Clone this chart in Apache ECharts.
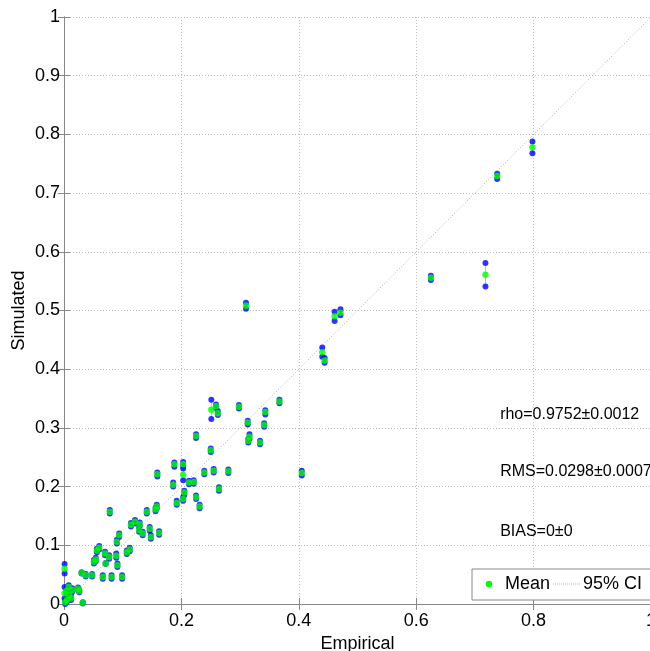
<!DOCTYPE html>
<html>
<head>
<meta charset="utf-8">
<script src="https://cdn.jsdelivr.net/npm/echarts@6/dist/echarts.min.js"></script>
<style>
html,body{margin:0;padding:0;background:#fff;}
#chart{width:650px;height:651px;}
</style>
</head>
<body>
<div id="chart"></div>
<script>
// Empirical (x), simulated mean (y), 95% CI lower / upper
var empirical = [0.798,0.738,0.718,0.625,0.310,0.461,0.471,0.440,0.444,0.367,0.343,0.341,0.313,0.316,0.314,0.334,0.405,0.298,0.251,0.259,0.262,0.225,0.250,0.188,0.203,0.203,0.239,0.255,0.280,0.213,0.221,0.186,0.264,0.205,0.203,0.225,0.192,0.231,0.159,0.078,0.158,0.156,0.141,0.121,0.114,0.129,0.128,0.134,0.146,0.148,0.162,0.094,0.090,0.060,0.056,0.070,0.077,0.089,0.112,0.107,0.054,0.051,0.071,0.091,0.030,0.037,0.048,0.066,0.081,0.099,0.024,0.026,0.032,0.001,0.001,0.008,0.014,0.009,0.005,0.002,0.004,0.012];
var simMean  = [0.778,0.729,0.561,0.556,0.508,0.490,0.496,0.429,0.415,0.345,0.327,0.305,0.309,0.285,0.278,0.275,0.223,0.336,0.331,0.337,0.325,0.286,0.262,0.238,0.238,0.220,0.224,0.227,0.226,0.207,0.208,0.203,0.196,0.190,0.179,0.182,0.172,0.166,0.221,0.157,0.166,0.161,0.157,0.140,0.135,0.136,0.126,0.120,0.128,0.114,0.121,0.117,0.106,0.096,0.091,0.086,0.080,0.082,0.093,0.088,0.076,0.072,0.069,0.066,0.053,0.049,0.049,0.046,0.046,0.046,0.026,0.022,0.002,0.060,0.018,0.029,0.024,0.015,0.007,0.003,0.022,0.010];
var ciLow    = [0.768,0.724,0.541,0.552,0.503,0.482,0.492,0.421,0.411,0.342,0.323,0.302,0.306,0.281,0.275,0.272,0.219,0.333,0.315,0.334,0.322,0.283,0.259,0.234,0.235,0.211,0.221,0.224,0.223,0.204,0.205,0.200,0.193,0.186,0.176,0.179,0.169,0.163,0.217,0.154,0.163,0.158,0.154,0.137,0.132,0.133,0.123,0.117,0.125,0.111,0.118,0.114,0.103,0.093,0.088,0.083,0.077,0.079,0.090,0.085,0.073,0.069,0.068,0.063,0.052,0.047,0.047,0.043,0.043,0.043,0.024,0.020,0.001,0.052,0.010,0.026,0.021,0.012,0.004,0.000,0.019,0.007];
var ciHigh   = [0.788,0.733,0.581,0.559,0.513,0.498,0.502,0.437,0.419,0.348,0.330,0.308,0.312,0.289,0.281,0.278,0.227,0.339,0.348,0.340,0.329,0.289,0.265,0.241,0.242,0.231,0.227,0.230,0.229,0.210,0.211,0.207,0.199,0.193,0.182,0.185,0.176,0.169,0.224,0.160,0.169,0.164,0.160,0.143,0.138,0.139,0.129,0.123,0.131,0.117,0.124,0.120,0.109,0.099,0.094,0.089,0.083,0.086,0.096,0.091,0.079,0.075,0.070,0.069,0.054,0.051,0.051,0.049,0.049,0.049,0.028,0.024,0.003,0.068,0.029,0.032,0.027,0.018,0.010,0.006,0.025,0.013];
var yTicks = [0,0.1,0.2,0.3,0.4,0.5,0.6,0.7,0.8,0.9,1];
var xTicks = [0,0.2,0.4,0.6,0.8,1];
var statsText = ['rho=0.9752\u00b10.0012','RMS=0.0298\u00b10.0007','BIAS=0\u00b10'];
var statsY = [0.322,0.225,0.123];
var statsX = 0.743;

var FONT = '"Liberation Sans", Arial, Helvetica, sans-serif';
var meanData = empirical.map(function(x,i){return [x, simMean[i]];});
var ciPts = [];
var ciSeg = [];
empirical.forEach(function(x,i){
  ciPts.push([x, ciLow[i]]); ciPts.push([x, ciHigh[i]]);
  ciSeg.push([x, ciLow[i], ciHigh[i]]);
});

var chart = echarts.init(document.getElementById('chart'), null, {renderer:'canvas'});
var G = {left:64, top:17, width:587, height:587, containLabel:false, outerBoundsMode:'none'};
function fmt(v){ return String(Math.round(v*10)/10); }
var gridLine = {show:true, lineStyle:{color:'#bdbdbd', type:[1,2], width:1}};
var axisLine = {show:true, lineStyle:{color:'#888', width:1}};
var tick = {show:true, inside:true, length:6, lineStyle:{color:'#888'}};

var option = {
  animation:false,
  backgroundColor:'#fff',
  grid: G,
  xAxis: [{
    type:'value', min:0, max:1, interval:0.2, position:'bottom',
    axisLine:axisLine, axisTick:tick, splitLine:gridLine,
    axisLabel:{color:'#000', fontSize:18, fontFamily:FONT, margin:8, showMinLabel:true, showMaxLabel:true,
      formatter:function(v){ return xTicks.indexOf(Math.round(v*10)/10)>=0 ? fmt(v) : ''; }},
    name:'Empirical', nameLocation:'middle', nameGap:31, nameMoveOverlap:false,
    nameTextStyle:{color:'#000', fontSize:18, fontFamily:FONT}
  },{
    type:'value', min:0, max:1, interval:0.2, position:'top',
    axisLine:axisLine, axisTick:tick, splitLine:{show:false}, axisLabel:{show:false}
  }],
  yAxis: [{
    type:'value', min:0, max:1, interval:0.1, position:'left',
    axisLine:axisLine, axisTick:tick, splitLine:gridLine,
    axisLabel:{color:'#000', fontSize:18, fontFamily:FONT, margin:4,
      formatter:function(v){ return yTicks.indexOf(Math.round(v*10)/10)>=0 ? fmt(v) : ''; }},
    name:'Simulated', nameLocation:'middle', nameGap:36, nameMoveOverlap:false,
    nameTextStyle:{color:'#000', fontSize:18, fontFamily:FONT}
  },{
    type:'value', min:0, max:1, interval:0.1, position:'right',
    axisLine:axisLine, axisTick:tick, splitLine:{show:false}, axisLabel:{show:false}
  }],
  series: [
    {
      name:'1:1', type:'line', data:[[0,0],[1,1]], symbol:'none', silent:true,
      lineStyle:{color:'#b4b4b4', width:1, type:[1,2]}, z:1
    },
    {
      name:'95% CI', type:'custom', data:ciSeg, z:2,
      renderItem:function(params, api){
        var p1 = api.coord([api.value(0), api.value(1)]);
        var p2 = api.coord([api.value(0), api.value(2)]);
        return {type:'line', shape:{x1:p1[0],y1:p1[1],x2:p2[0],y2:p2[1]},
          style:{stroke:'#b0b4ff', lineWidth:1}};
      }
    },
    {
      name:'CI bounds', type:'scatter', data:ciPts, symbol:'circle', symbolSize:6,
      itemStyle:{color:'#0000ff'}, z:3
    },
    {
      name:'Mean', type:'scatter', data:meanData, symbol:'circle', symbolSize:6.5,
      itemStyle:{color:'#00ff00'}, z:4
    }
  ],
  graphic: []
};
chart.setOption(option);

// Statistics annotations placed at data coordinates
var g = [];
statsText.forEach(function(t,i){
  var p = chart.convertToPixel({xAxisIndex:0, yAxisIndex:0}, [statsX, statsY[i]]);
  g.push({type:'text', x:p[0], y:p[1], z:10,
    style:{text:t, fill:'#000', fontSize:16, fontFamily:FONT, verticalAlign:'middle'}});
});
// Legend box
g.push({type:'rect', shape:{x:472, y:569, width:190, height:31}, z:10,
  style:{fill:'#fff', stroke:'#888', lineWidth:1}});
g.push({type:'circle', shape:{cx:489, cy:584, r:3.2}, z:11, style:{fill:'#00ff00'}});
g.push({type:'text', x:505, y:584, z:11,
  style:{text:'Mean', fill:'#000', fontSize:18, fontFamily:FONT, verticalAlign:'middle'}});
g.push({type:'line', shape:{x1:553, y1:584, x2:580, y2:584}, z:11,
  style:{stroke:'#b0b4ff', lineWidth:1, lineDash:[1,1]}});
g.push({type:'text', x:583, y:584, z:11,
  style:{text:'95% CI', fill:'#000', fontSize:18, fontFamily:FONT, verticalAlign:'middle'}});
chart.setOption({graphic:g});
</script>
</body>
</html>
